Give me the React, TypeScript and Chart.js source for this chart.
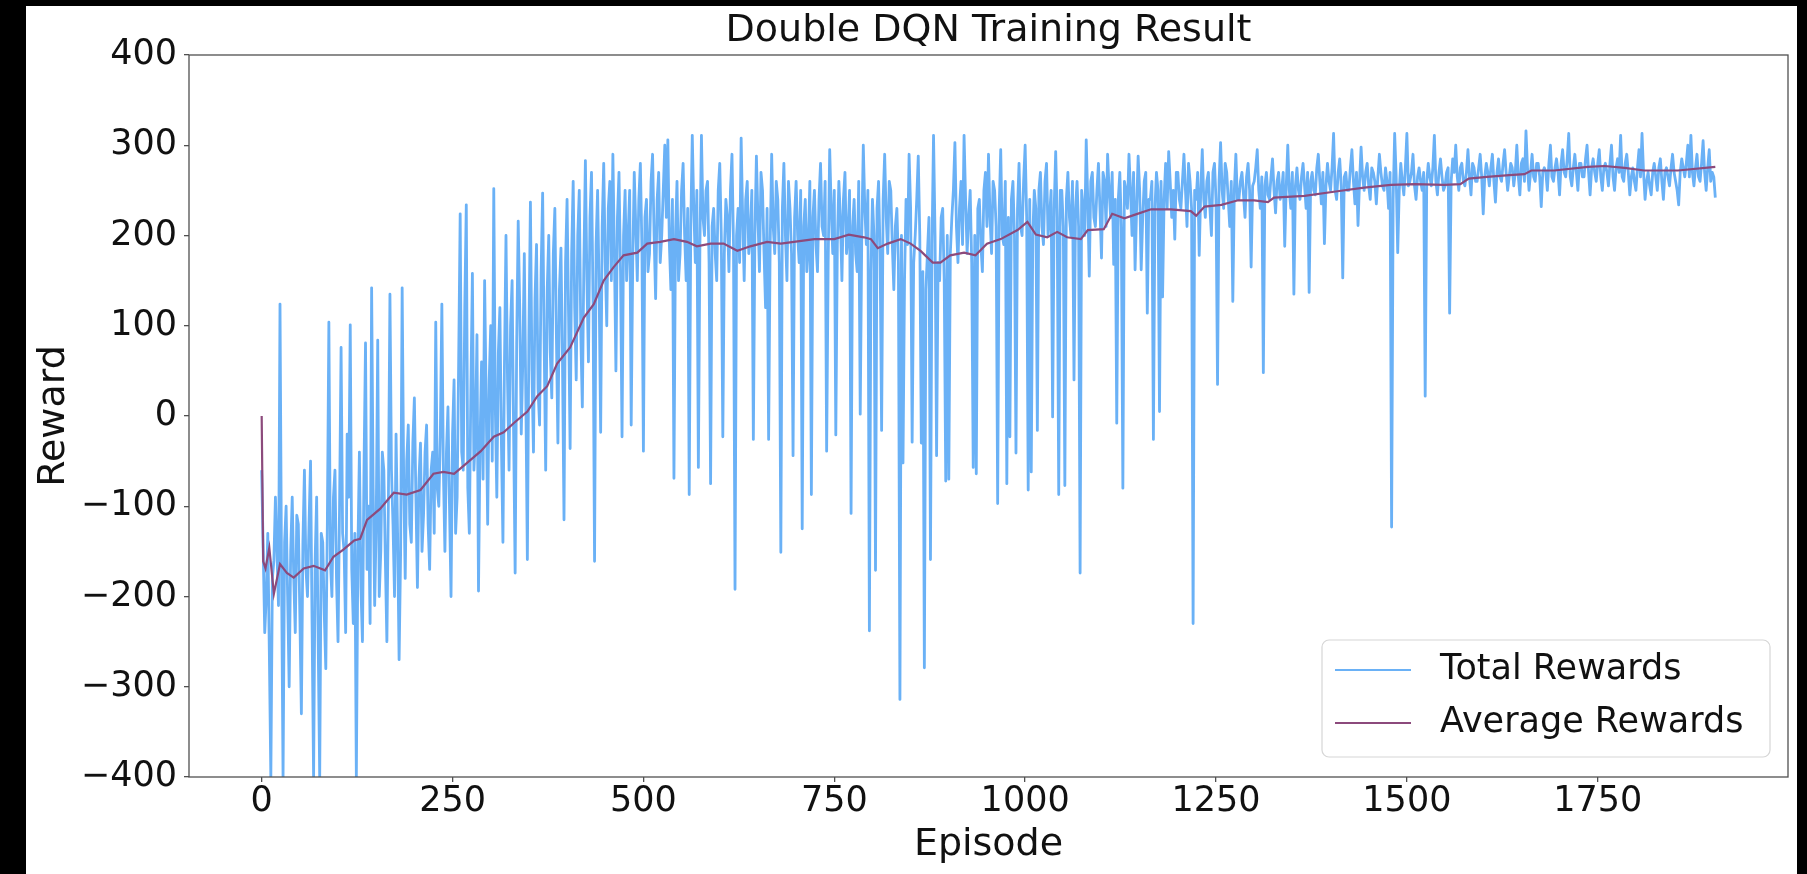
import { useEffect, useRef } from 'react';
import { Chart, registerables } from 'chart.js';

Chart.register(...registerables);

const TITLE = 'Double DQN Training Result';
const X_LABEL = 'Episode';
const Y_LABEL = 'Reward';
const SERIES_NAMES = ['Total Rewards', 'Average Rewards'];
const xTicks = [0, 250, 500, 750, 1000, 1250, 1500, 1750];
const yTicks = [-400, -300, -200, -100, 0, 100, 200, 300, 400];

// Total reward per episode, read every 2nd episode (episode = index * 2)
const EPISODE_STEP = 2;
const totalRewards = [
  -60, -150, -240, -200, -130, -260, -400, -180, -160, -90, -150, -210, 124, -170, -400, -140, -100, -200, -300, -150,
  -90, -180, -240, -110, -120, -220, -330, -140, -60, -170, -200, -120, -50, -230, -400, -160, -90, -250, -400, -130,
  -140, -220, -280, -120, 104, -160, -200, -90, -60, -180, -250, -100, 76, -130, -150, -240, -20, -90, 101, -170,
  -230, -130, -400, -150, -40, -190, -250, -60, 81, -170, -100, -230, 142, -80, -210, -120, 84, -200, -150, -40,
  -60, -160, -250, -90, 135, -60, -120, -200, -20, -130, -270, -150, 142, -70, -180, -50, -10, -120, -140, -30,
  20, -90, -190, -70, -30, -150, -110, -40, -10, -120, -170, -60, -40, -130, 104, -80, -100, -20, 124, -60,
  -150, -40, 10, -100, -200, -20, 40, -130, -90, 60, 224, -40, -60, 120, 234, -80, -130, 30, 158, -60,
  -20, 90, -194, -30, 60, -70, 150, 20, -120, 40, 100, -50, 252, 10, -90, 70, 120, -30, -140, 60,
  200, 40, -60, 100, 150, -20, -174, 80, 216, 120, -20, 60, 180, 20, -159, 90, 237, 50, -40, 130,
  190, 30, -10, 160, 247, 80, -60, 140, 200, 70, 20, 180, 230, 90, -30, 140, 186, 60, -115, 170,
  240, 110, -36, 180, 260, 120, 40, 200, 250, 90, 10, 170, 283, 150, 60, 220, 270, 130, -161, 190,
  250, 140, -18, 210, 280, 170, 100, 230, 260, 150, 290, 180, 50, 220, 270, 160, -23, 200, 250, 150,
  200, 250, -10, 170, 270, 210, 150, 240, 280, 190, -39, 220, 240, 160, 180, 260, 290, 200, 130, 240,
  270, 170, 200, 250, 300, 220, 306, 190, 140, 240, -69, 200, 260, 150, 180, 250, 280, 200, 150, 230,
  -87, 210, 311, 230, 170, 250, -57, 190, 311, 220, 200, 250, 260, 170, -75, 210, 230, 180, 150, 250,
  280, 200, -23, 180, 240, 220, 160, 250, 290, 190, -192, 200, 230, 170, 308, 220, 150, 240, 260, 180,
  200, 250, -26, 200, 288, 220, 160, 270, 250, 180, 120, 230, -26, 190, 290, 210, 180, 260, 240, 170,
  -151, 230, 280, 200, 150, 260, 230, 180, -44, 220, 260, 200, 170, 250, -125, 210, 240, 160, 190, 260,
  -87, 220, 250, 190, 160, 240, 280, 210, 200, 260, -39, 170, 295, 230, 180, 250, -21, 190, 260, 220,
  150, 240, 270, 180, 200, 250, -108, 210, 240, 180, 160, 260, 2, 200, 300, 230, 190, 250, -238, 160,
  240, 200, -171, 230, 260, 180, -16, 240, 290, 220, 180, 260, 250, 190, 140, 210, 230, 170, -314, 200,
  -52, 150, 240, 190, 290, 230, -29, 170, 200, 240, 288, 200, -30, 160, -279, 140, 180, 220, -159, 190,
  311, 200, -44, 170, 150, 220, 230, 150, -72, 200, -70, 180, 220, 250, 303, 210, 170, 230, 260, 190,
  311, 240, 180, 220, 250, 170, -57, 200, -64, 230, 240, 190, 160, 250, 270, 210, 290, 220, 180, 260,
  250, 210, -97, 230, 295, 200, 190, 260, -75, 220, -23, 240, 260, 200, -41, 230, 280, 210, 200, 260,
  300, 220, -82, 240, -62, 200, 250, 230, -16, 250, 270, 210, 190, 260, 280, 200, 220, 250, -1, 230,
  293, 220, -87, 250, 250, 210, -77, 240, 270, 220, 200, 260, 40, 230, 260, 210, -174, 250, 230, 200,
  306, 240, 155, 260, 270, 220, 210, 250, 280, 230, 175, 270, 260, 210, 290, 250, 220, 270, 168, 240,
  -8, 240, 270, 210, -80, 260, 250, 230, 290, 250, 200, 270, 162, 230, 288, 250, 162, 220, 260, 270,
  114, 240, 240, 260, -26, 230, 270, 250, 5, 260, 132, 240, 280, 230, 293, 260, 220, 250, 196, 270,
  270, 240, 230, 260, 290, 250, 210, 280, 260, 230, -230, 250, 240, 270, 178, 250, 295, 240, 220, 260,
  270, 230, 200, 270, 280, 240, 35, 260, 303, 250, 230, 280, 270, 240, 210, 260, 127, 250, 290, 240,
  240, 260, 270, 245, 220, 265, 280, 250, 165, 255, 260, 275, 295, 250, 230, 265, 48, 255, 270, 245,
  240, 265, 285, 250, 225, 260, 270, 240, 250, 270, 188, 255, 300, 250, 230, 270, 135, 255, 275, 250,
  240, 265, 280, 255, 230, 270, 137, 260, 270, 250, 245, 275, 290, 260, 235, 270, 191, 255, 280, 260,
  250, 275, 313, 250, 240, 270, 285, 255, 153, 265, 270, 250, 250, 275, 295, 260, 235, 270, 211, 260,
  298, 265, 250, 270, 280, 255, 240, 275, 270, 260, 235, 265, 290, 270, 255, 250, 275, 260, 230, 270,
  -123, 240, 313, 265, 181, 250, 280, 260, 245, 275, 313, 255, 260, 270, 290, 255, 240, 265, 275, 260,
  250, 270, 22, 260, 280, 265, 255, 275, 311, 260, 245, 270, 285, 265, 250, 255, 270, 275, 114, 260,
  285, 270, 300, 265, 250, 275, 280, 260, 255, 270, 295, 265, 245, 280, 275, 260, 260, 275, 290, 265,
  224, 265, 280, 270, 255, 275, 290, 260, 237, 270, 285, 265, 260, 280, 295, 270, 250, 265, 280, 275,
  255, 270, 300, 265, 245, 280, 285, 260, 316, 275, 250, 270, 290, 265, 260, 280, 280, 265, 232, 270,
  275, 270, 250, 280, 300, 265, 260, 275, 285, 270, 245, 280, 295, 270, 265, 285, 313, 265, 255, 275,
  290, 270, 250, 280, 280, 265, 265, 285, 300, 270, 245, 275, 285, 270, 260, 280, 295, 265, 250, 275,
  280, 270, 255, 280, 300, 265, 250, 275, 285, 270, 311, 265, 260, 280, 290, 270, 245, 265, 275, 260,
  250, 275, 295, 265, 313, 270, 240, 260, 270, 255, 245, 270, 280, 265, 250, 275, 285, 260, 240, 270,
  275, 265, 255, 275, 290, 270, 260, 250, 234, 270, 285, 275, 265, 280, 300, 265, 311, 270, 255, 275,
  290, 265, 260, 280, 305, 270, 250, 275, 295, 260, 270, 265, 242,
];

// Average reward curve, read at these episodes
const avgEpisodes = [
  0, 2, 5, 10, 16, 24, 33, 42, 55, 68, 83, 94, 107, 121, 129, 138, 155, 173, 190, 208,
  225, 238, 252, 269, 287, 304, 317, 330, 348, 361, 374, 387, 404, 422, 435, 448, 461, 474, 492, 505,
  522, 540, 557, 570, 588, 605, 623, 640, 662, 680, 697, 724, 750, 769, 789, 798, 807, 820, 837, 850,
  863, 879, 889, 902, 920, 935, 950, 968, 990, 1003, 1014, 1029, 1042, 1055, 1073, 1082, 1103, 1114, 1130, 1147,
  1165, 1191, 1217, 1224, 1235, 1257, 1279, 1300, 1318, 1326, 1366, 1409, 1444, 1479, 1510, 1549, 1570, 1581, 1605, 1634,
  1654, 1663, 1693, 1737, 1759, 1785, 1811, 1855, 1904,
];
const avgRewards = [
  0, -161, -169, -146, -197, -164, -174, -179, -169, -166, -171, -156, -148, -138, -136, -115, -103, -85, -87, -82,
  -64, -62, -64, -52, -39, -23, -18, -8, 5, 22, 33, 58, 76, 109, 124, 150, 165, 178, 181, 191,
  193, 196, 193, 188, 191, 191, 183, 188, 193, 191, 193, 196, 196, 201, 198, 196, 186, 191, 196, 191,
  183, 170, 170, 178, 181, 178, 191, 196, 206, 215, 201, 198, 204, 198, 196, 206, 207, 224, 219, 224,
  229, 229, 227, 222, 232, 234, 239, 239, 237, 242, 244, 249, 253, 256, 257, 256, 257, 263, 265, 267,
  268, 272, 272, 276, 277, 275, 272, 272, 276,
];

const X_MIN = -95.2;
const X_MAX = 1999.2;

const FONT = '"DejaVu Sans", "Liberation Sans", sans-serif';
const BLUE = '#6ab1f6';
const PURPLE = '#8c4a7c';
const AXIS = '#505050';
const TEXT = '#111111';

const fmt = (v: number) => (v < 0 ? '\u2212' + Math.abs(v) : String(v));

const framePlugin = {
  id: 'frame',
  afterDraw(chart: any) {
    const { ctx, chartArea: a } = chart;
    ctx.save();
    ctx.strokeStyle = AXIS;
    ctx.lineWidth = 1.3;
    ctx.strokeRect(a.left, a.top, a.right - a.left, a.bottom - a.top);
    ctx.restore();
  },
};

const legendPlugin = {
  id: 'insideLegend',
  afterDraw(chart: any) {
    const { ctx, chartArea: a } = chart;
    const w = 448;
    const h = 117;
    const x = a.right - 18 - w;
    const y = a.bottom - 20 - h;
    ctx.save();
    ctx.beginPath();
    const r = 7;
    ctx.moveTo(x + r, y);
    ctx.arcTo(x + w, y, x + w, y + h, r);
    ctx.arcTo(x + w, y + h, x, y + h, r);
    ctx.arcTo(x, y + h, x, y, r);
    ctx.arcTo(x, y, x + w, y, r);
    ctx.closePath();
    ctx.fillStyle = 'rgba(255,255,255,0.85)';
    ctx.fill();
    ctx.strokeStyle = '#d6d6d6';
    ctx.lineWidth = 1.2;
    ctx.stroke();
    const colors = [BLUE, PURPLE];
    const rows = [30, 83];
    ctx.font = `35px ${FONT}`;
    ctx.textBaseline = 'middle';
    ctx.textAlign = 'left';
    SERIES_NAMES.forEach((name, i) => {
      const ly = y + rows[i];
      ctx.beginPath();
      ctx.moveTo(x + 13, ly);
      ctx.lineTo(x + 89, ly);
      ctx.strokeStyle = colors[i];
      ctx.lineWidth = 1.8;
      ctx.stroke();
      ctx.fillStyle = TEXT;
      ctx.fillText(name, x + 118, ly);
    });
    ctx.restore();
  },
};

export default function App() {
  const ref = useRef<HTMLCanvasElement>(null);

  useEffect(() => {
    const canvas = ref.current;
    if (!canvas) return;
    const chart = new Chart(canvas, {
      type: 'line',
      data: {
        datasets: [
          {
            label: SERIES_NAMES[0],
            data: totalRewards.map((v, i) => ({ x: i * EPISODE_STEP, y: v })),
            borderColor: BLUE,
            borderWidth: 2.8,
            borderJoinStyle: 'round',
            pointRadius: 0,
            tension: 0,
            order: 1,
          },
          {
            label: SERIES_NAMES[1],
            data: avgRewards.map((v, i) => ({ x: avgEpisodes[i], y: v })),
            borderColor: PURPLE,
            borderWidth: 2.2,
            pointRadius: 0,
            tension: 0,
            order: 0,
          },
        ],
      },
      options: {
        animation: false,
        responsive: false,
        devicePixelRatio: 1,
        layout: { padding: { left: 0, right: 9, top: 0, bottom: 0 } },
        plugins: {
          legend: { display: false },
          tooltip: { enabled: false },
          title: {
            display: true,
            text: TITLE,
            fullSize: false,
            color: TEXT,
            font: { family: FONT, size: 38, weight: 'normal', lineHeight: 1 },
            padding: { top: 6, bottom: 5 },
          },
        },
        scales: {
          x: {
            type: 'linear',
            min: X_MIN,
            max: X_MAX,
            afterBuildTicks: (axis: any) => {
              axis.ticks = xTicks.map((v) => ({ value: v }));
            },
            afterFit: (axis: any) => {
              axis.height = 97;
            },
            ticks: {
              color: TEXT,
              font: { family: FONT, size: 35, lineHeight: 1 },
              padding: 2,
              maxRotation: 0,
              autoSkip: false,
              callback: (v: any) => fmt(Number(v)),
            },
            grid: {
              display: true,
              drawOnChartArea: false,
              drawTicks: true,
              tickLength: 5,
              color: AXIS,
              lineWidth: 1.3,
            },
            border: { display: false },
            title: {
              display: true,
              text: X_LABEL,
              color: TEXT,
              font: { family: FONT, size: 38, lineHeight: 1 },
              padding: { top: 0, bottom: 10 },
            },
          },
          y: {
            type: 'linear',
            min: -400,
            max: 400,
            afterBuildTicks: (axis: any) => {
              axis.ticks = yTicks.map((v) => ({ value: v }));
            },
            afterFit: (axis: any) => {
              axis.width = 163;
            },
            ticks: {
              color: TEXT,
              font: { family: FONT, size: 35, lineHeight: 1 },
              padding: 7,
              autoSkip: false,
              callback: (v: any) => fmt(Number(v)),
            },
            grid: {
              display: true,
              drawOnChartArea: false,
              drawTicks: true,
              tickLength: 5,
              color: AXIS,
              lineWidth: 1.3,
            },
            border: { display: false },
            title: {
              display: true,
              text: Y_LABEL,
              color: TEXT,
              font: { family: FONT, size: 38, lineHeight: 1 },
              padding: { top: 9, bottom: 0 },
            },
          },
        },
      },
      plugins: [framePlugin, legendPlugin],
    });
    return () => chart.destroy();
  }, []);

  return (
    <div
      style={{
        position: 'fixed',
        left: 0,
        top: 0,
        width: '1807px',
        height: '874px',
        background: '#000',
        overflow: 'hidden',
      }}
    >
      <div
        style={{
          position: 'absolute',
          left: '26px',
          top: '6px',
          width: '1771px',
          height: '868px',
          background: '#fff',
        }}
      >
        <canvas
          ref={ref}
          width={1771}
          height={868}
          style={{ display: 'block', width: '1771px', height: '868px' }}
        />
      </div>
    </div>
  );
}
